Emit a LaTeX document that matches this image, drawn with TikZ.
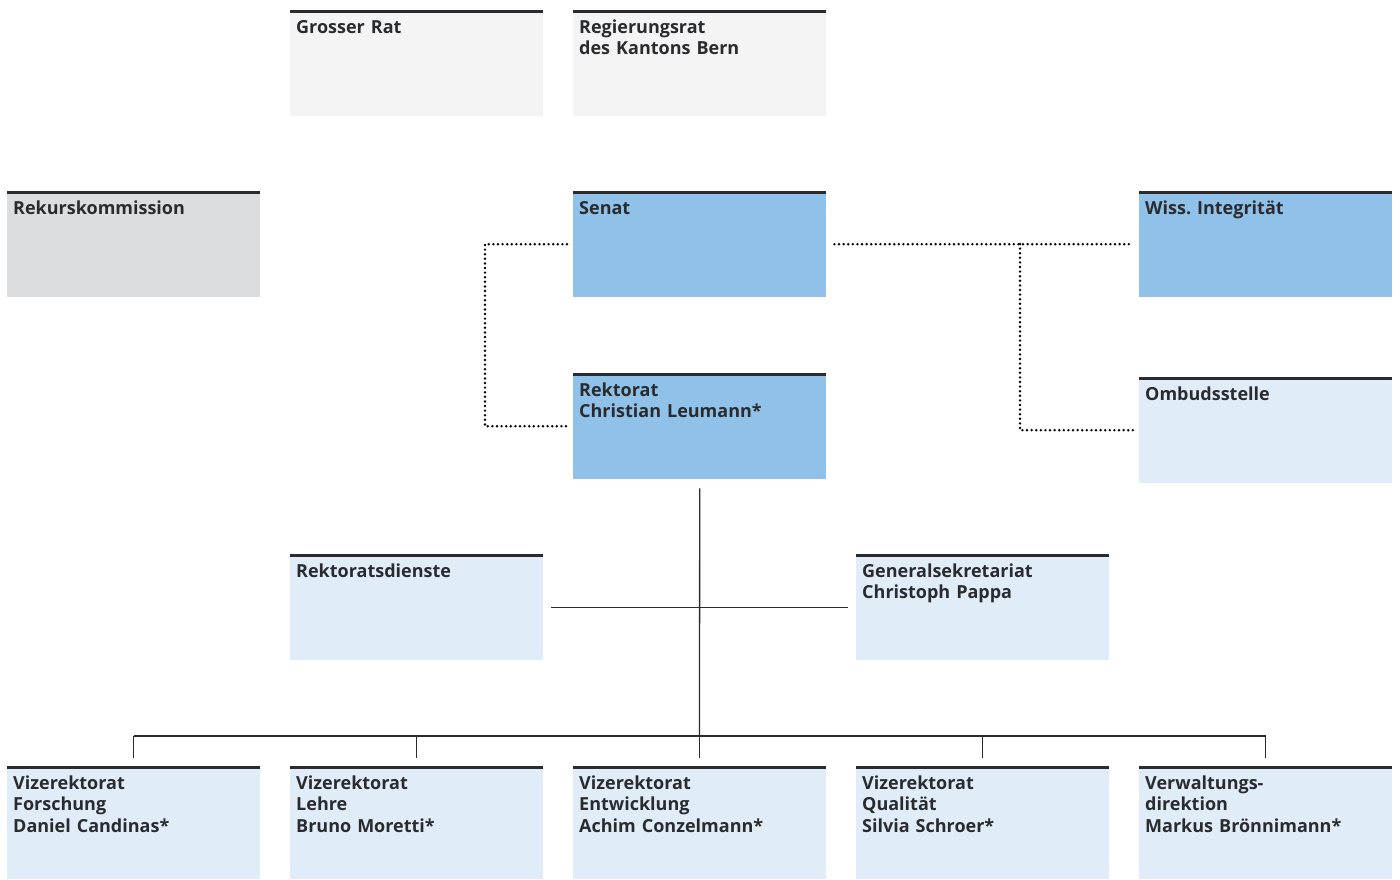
\documentclass[tikz,border=0pt]{standalone}
\usepackage{fontspec}
\setmainfont{Open Sans}
\usetikzlibrary{positioning}
\frenchspacing

\definecolor{topgrey}{HTML}{F4F4F4}
\definecolor{midgrey}{HTML}{DCDDDF}
\definecolor{unibern}{HTML}{8FC1E9}
\definecolor{unilight}{HTML}{E0ECF8}
\definecolor{inkdark}{HTML}{2A2B2E}

\begin{document}
\begin{tikzpicture}[x=1pt,y=-1pt,
		orgbox/.style={rectangle,anchor=north west,inner xsep=6pt,inner ysep=0pt,
			text width=241pt,align=left,text=inkdark,
			font=\fontsize{18}{21.5}\selectfont\bfseries,
			text height=23pt,text depth=83pt,
			path picture={\draw[inkdark,line width=5pt]
				(path picture bounding box.north west) -- (path picture bounding box.north east);}},
		lowbox/.style={orgbox,text depth=90pt,fill=unilight},
		orgline/.style={draw=inkdark,line width=1.3pt},
		dotline/.style={draw=black,line width=2.7pt,line cap=round,dash pattern=on 0pt off 4.6pt}]
	\useasboundingbox (0,0) rectangle (1400,879);
	% upper level
	\node[orgbox,fill=topgrey] (grat) at (290,10) {Grosser Rat};
	\node[orgbox,fill=topgrey] (regrat) at (573,10) {Regierungsrat\\des Kantons Bern};
	\node[orgbox,fill=midgrey] (rekurs) at (7,191) {Rekurskommission};
	\node[orgbox,fill=unibern] (senat) at (573,191) {Senat};
	\node[orgbox,fill=unibern] (wiss) at (1139,191) {Wiss. Integrität};
	\node[orgbox,fill=unibern] (rektorat) at (573,373) {Rektorat\\Christian Leumann*};
	\node[orgbox,fill=unilight] (ombud) at (1139,377) {Ombudsstelle};
	% staff
	\node[orgbox,fill=unilight] (rdienste) at (290,554) {Rektoratsdienste};
	\node[orgbox,fill=unilight] (gensek) at (856,554) {Generalsekretariat\\Christoph Pappa};
	% vice rectorates
	\node[lowbox] (v1) at (7,766) {Vizerektorat\\Forschung\\Daniel Candinas*};
	\node[lowbox] (v2) at (290,766) {Vizerektorat\\Lehre\\Bruno Moretti*};
	\node[lowbox] (v3) at (573,766) {Vizerektorat\\Entwicklung\\Achim Conzelmann*};
	\node[lowbox] (v4) at (856,766) {Vizerektorat\\Qualität\\Silvia Schroer*};
	\node[lowbox] (v5) at (1139,766) {Verwaltungs-\\direktion\\Markus Brönnimann*};

	% dotted links
	\draw[dotline] ([xshift=-6]senat.west) -- ++(-82,0) |- ([xshift=-6]rektorat.west);
	\draw[dotline] ([xshift=8]senat.east) -- ([xshift=-6]wiss.west);
	\coordinate (dj) at (1020,244);
	\draw[dotline] (dj) |- ([xshift=-6]ombud.west);

	% solid lines
	\coordinate (bar) at (699.5,736);
	\draw[orgline] ([yshift=-9]rektorat.south) -- (bar);
	\draw[orgline] ([xshift=8]rdienste.east) -- ([xshift=-8]gensek.west);
	\draw[orgline] (v1.north |- bar) -- (v5.north |- bar);
	\foreach \i in {1,...,5}
		\draw[orgline] (v\i.north |- bar) -- ([yshift=8]v\i.north);
\end{tikzpicture}
\end{document}
